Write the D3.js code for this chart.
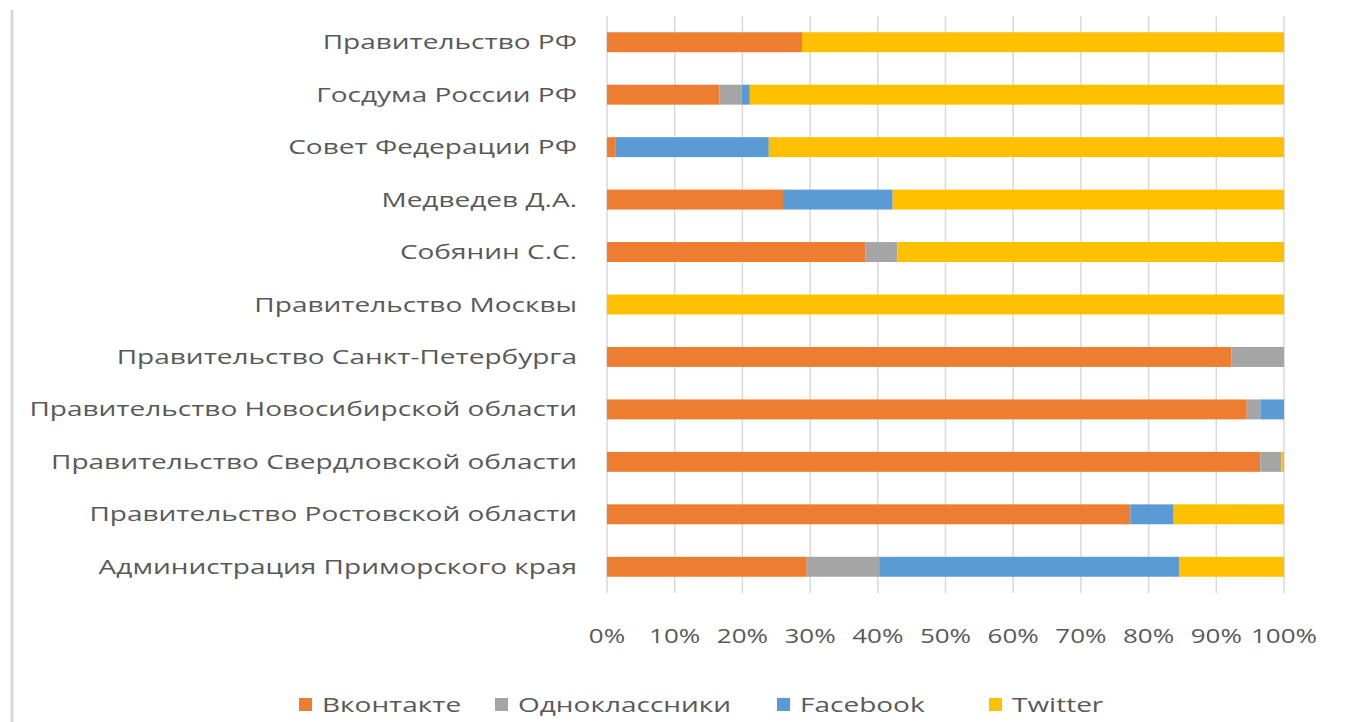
<!DOCTYPE html>
<html>
<head>
<meta charset="utf-8">
<script src="https://cdn.jsdelivr.net/npm/d3@7"></script>
<style>
  body { margin: 0; background: #fff; }
  text { font-family: "Open Sans", "Noto Sans", sans-serif; fill: #595959; }
</style>
</head>
<body>
<div id="chart"></div>
<script>
// categories top to bottom
var categories = [
  "Правительство РФ",
  "Госдума России РФ",
  "Совет Федерации РФ",
  "Медведев Д.А.",
  "Собянин С.С.",
  "Правительство Москвы",
  "Правительство Санкт-Петербурга",
  "Правительство Новосибирской области",
  "Правительство Свердловской области",
  "Правительство Ростовской области",
  "Администрация Приморского края"
];
var seriesNames = ["Вконтакте", "Одноклассники", "Facebook", "Twitter"];
var seriesColors = ["#ED7D31", "#A5A5A5", "#5B9BD5", "#FFC000"];

// shares in %
var vkontakte     = [28.8, 16.6, 1.3, 26.0, 38.2, 0, 92.2, 94.5, 96.5, 77.3, 29.5];
var odnoklassniki = [0, 3.3, 0, 0, 4.7, 0, 7.8, 2.0, 3.1, 0, 10.7];
var facebook      = [0, 1.2, 22.6, 16.2, 0, 0, 0, 3.5, 0, 6.4, 44.3];
var twitter       = [71.2, 78.9, 76.1, 57.8, 57.1, 100, 0, 0, 0.4, 16.3, 15.5];

var tickValues = [0, 0.1, 0.2, 0.3, 0.4, 0.5, 0.6, 0.7, 0.8, 0.9, 1];

var width = 1345, height = 722;
var margin = {left: 607, right: 61, top: 16, bottom: 129};

var rows = categories.map(function(c, i) {
  var total = vkontakte[i] + odnoklassniki[i] + facebook[i] + twitter[i];
  return {
    name: c,
    "Вконтакте": vkontakte[i] / total,
    "Одноклассники": odnoklassniki[i] / total,
    "Facebook": facebook[i] / total,
    "Twitter": twitter[i] / total
  };
});

var svg = d3.select("#chart").append("svg")
  .attr("width", width).attr("height", height);

// left frame edge
svg.append("line")
  .attr("x1", 12).attr("x2", 12).attr("y1", 10).attr("y2", height)
  .attr("stroke", "#D9D9D9").attr("stroke-width", 3);

var x = d3.scaleLinear().domain([0, 1]).range([margin.left, width - margin.right]);
var y = d3.scaleBand().domain(categories)
  .range([margin.top, height - margin.bottom]).paddingInner(0.62).paddingOuter(0.31);

// gridlines
svg.append("g").selectAll("line")
  .data(tickValues)
  .enter().append("line")
  .attr("x1", function(d){ return x(d); })
  .attr("x2", function(d){ return x(d); })
  .attr("y1", margin.top).attr("y2", height - margin.bottom)
  .attr("stroke", "#D9D9D9").attr("stroke-width", 1.5);

var stack = d3.stack().keys(seriesNames)(rows);

svg.append("g").selectAll("g")
  .data(stack)
  .enter().append("g")
  .attr("fill", function(d, i){ return seriesColors[i]; })
  .selectAll("rect")
  .data(function(d){ return d; })
  .enter().append("rect")
  .attr("x", function(d){ return x(d[0]); })
  .attr("width", function(d){ return Math.max(0, x(d[1]) - x(d[0])); })
  .attr("y", function(d){ return y(d.data.name); })
  .attr("height", y.bandwidth());

// the reference text is drawn wide, so stretch it horizontally
var stretch = 1.4;

// category labels
svg.append("g").selectAll("text")
  .data(categories)
  .enter().append("text")
  .attr("transform", function(d){
    return "translate(" + (margin.left - 30) + "," + (y(d) + y.bandwidth() / 2) + ") scale(" + stretch + ",1)";
  })
  .attr("dy", "0.35em")
  .attr("text-anchor", "end")
  .style("font-size", "20px")
  .text(function(d){ return d; });

// x axis labels
var fmt = d3.format(".0%");
svg.append("g").selectAll("text")
  .data(tickValues)
  .enter().append("text")
  .attr("transform", function(d){ return "translate(" + x(d) + ",636) scale(1.3,1)"; })
  .attr("dy", "0.35em")
  .attr("text-anchor", "middle")
  .style("font-size", "20px")
  .text(function(d){ return fmt(d); });

// legend
var legendX = [299, 495, 777, 989];
var legend = svg.append("g").selectAll("g")
  .data(seriesNames)
  .enter().append("g")
  .attr("transform", function(d, i){ return "translate(" + legendX[i] + ",705)"; });
legend.append("rect")
  .attr("x", 0).attr("y", -7).attr("width", 13).attr("height", 13)
  .attr("fill", function(d, i){ return seriesColors[i]; });
legend.append("text")
  .attr("transform", "translate(23,0) scale(" + stretch + ",1)")
  .attr("dy", "0.35em")
  .style("font-size", "20px")
  .text(function(d){ return d; });
</script>
</body>
</html>
